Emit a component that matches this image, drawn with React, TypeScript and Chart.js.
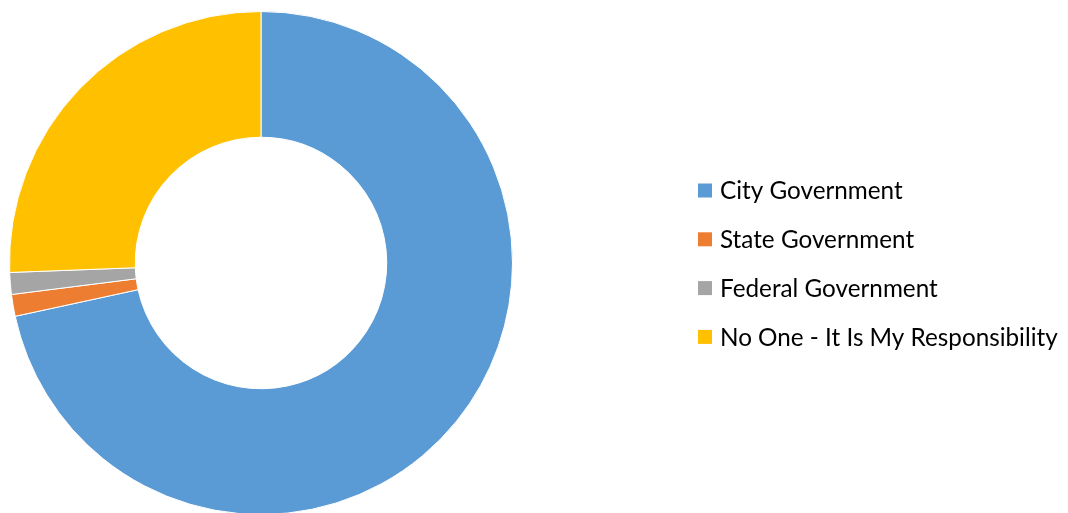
import React, { useEffect, useRef } from 'react';
import { Chart, registerables } from 'chart.js';

Chart.register(...registerables);

const categories = [
  'City Government',
  'State Government',
  'Federal Government',
  'No One - It Is My Responsibility',
];
const values = [71.6, 1.4, 1.4, 25.6];
const colors = ['#5B9BD5', '#ED7D31', '#A5A5A5', '#FFC000'];

const CANVAS_W = 1068;
const CANVAS_H = 526;
const FONT_FAMILY = 'Lato, "Noto Sans", "DejaVu Sans", sans-serif';

const sideLegend = {
  id: 'sideLegend',
  afterDraw(chart: any) {
    const ctx: CanvasRenderingContext2D = chart.ctx;
    ctx.save();
    ctx.font = `100px ${FONT_FAMILY}`;
    const longest = Math.max(...categories.map((c) => ctx.measureText(c).width));
    const size = (100 * 338) / longest;
    ctx.font = `${size}px ${FONT_FAMILY}`;
    ctx.textBaseline = 'alphabetic';
    ctx.textAlign = 'left';
    const startY = 190.5;
    const step = 48.8;
    categories.forEach((label, i) => {
      const cy = startY + i * step;
      ctx.fillStyle = colors[i];
      ctx.fillRect(698, cy - 7, 14, 14);
      ctx.fillStyle = '#000000';
      ctx.fillText(label, 720, cy + size * 0.36);
    });
    ctx.restore();
  },
};

export default function App() {
  const canvasRef = useRef<HTMLCanvasElement | null>(null);

  useEffect(() => {
    const canvas = canvasRef.current;
    if (!canvas) return;
    const chart = new Chart(canvas, {
      type: 'doughnut',
      data: {
        labels: categories,
        datasets: [
          {
            data: values,
            backgroundColor: colors,
            borderColor: '#ffffff',
            borderWidth: 1,
          },
        ],
      },
      options: {
        responsive: false,
        animation: false,
        devicePixelRatio: 1,
        cutout: '50%',
        layout: {
          padding: { left: 9, top: 11, right: CANVAS_W - 513, bottom: 11 },
        },
        plugins: {
          legend: { display: false },
          tooltip: { enabled: false },
        },
      },
      plugins: [sideLegend],
    });
    return () => chart.destroy();
  }, []);

  return (
    <div
      style={{
        position: 'fixed',
        left: 0,
        top: 0,
        width: CANVAS_W,
        height: 513,
        overflow: 'hidden',
        background: '#ffffff',
      }}
    >
      <canvas ref={canvasRef} width={CANVAS_W} height={CANVAS_H} style={{ display: 'block' }} />
    </div>
  );
}
